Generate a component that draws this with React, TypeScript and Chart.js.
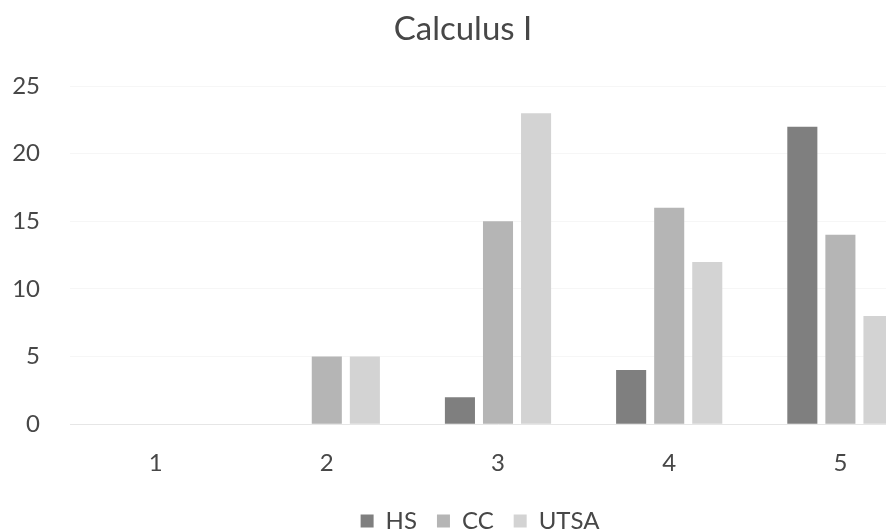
import React, { useEffect, useRef } from "react";
import { Chart, registerables } from "chart.js";

Chart.register(...registerables);

const categories = ["1", "2", "3", "4", "5"];
const hsValues = [0, 0, 2, 4, 22];
const ccValues = [0, 5, 15, 16, 14];
const utsaValues = [0, 5, 23, 12, 8];
const seriesNames = ["HS", "CC", "UTSA"];
const yTicks = [0, 5, 10, 15, 20, 25];

const FONT = "Lato, 'Open Sans', sans-serif";
const TEXT = "#474747";

// Nudges the legend block after layout so it sits where it should under the axis.
const legendOffset = {
  id: "legendOffset",
  afterLayout(chart: any) {
    const lg = chart.legend;
    if (!lg) return;
    const dx = 17;
    const dy = -6;
    lg.left += dx;
    lg.right += dx;
    lg.top += dy;
    lg.bottom += dy;
  },
};

export default function App() {
  const ref = useRef<HTMLCanvasElement | null>(null);

  useEffect(() => {
    if (!ref.current) return;
    const chart = new Chart(ref.current, {
      type: "bar",
      data: {
        labels: categories,
        datasets: [
          { label: seriesNames[0], data: hsValues, backgroundColor: "#7f7f7f" },
          { label: seriesNames[1], data: ccValues, backgroundColor: "#b5b5b5" },
          { label: seriesNames[2], data: utsaValues, backgroundColor: "#d3d3d3" },
        ],
      },
      plugins: [legendOffset],
      options: {
        animation: false,
        responsive: false,
        maintainAspectRatio: false,
        datasets: { bar: { barPercentage: 0.79, categoryPercentage: 0.667 } },
        layout: { padding: { left: 0, right: 6, top: 0, bottom: 2 } },
        plugins: {
          tooltip: { enabled: false },
          title: {
            display: true,
            text: "Calculus I",
            color: TEXT,
            font: { family: FONT, size: 33, weight: "normal" },
            padding: { top: 10, bottom: 36.5 },
          },
          legend: {
            position: "bottom",
            labels: {
              boxWidth: 13,
              boxHeight: 13,
              padding: 20,
              color: TEXT,
              font: { family: FONT, size: 24 },
            },
          },
        },
        scales: {
          x: {
            grid: { display: false },
            border: { color: "#e6e6e6" },
            ticks: { color: TEXT, font: { family: FONT, size: 24 }, padding: 17 },
          },
          y: {
            min: 0,
            max: 25,
            afterBuildTicks: (scale: any) => {
              scale.ticks = yTicks.map((v) => ({ value: v }));
            },
            afterFit: (scale: any) => {
              scale.width = 70;
            },
            grid: { color: "rgba(0,0,0,0.035)", drawTicks: false },
            border: { display: false },
            ticks: { color: TEXT, font: { family: FONT, size: 24 }, padding: 30 },
          },
        },
      },
    });
    return () => chart.destroy();
  }, []);

  return (
    <div
      style={{
        position: "fixed",
        left: 0,
        top: 0,
        width: 886,
        height: 532,
        overflow: "hidden",
        background: "#fff",
      }}
    >
      <canvas ref={ref} width={932} height={551} style={{ display: "block" }} />
    </div>
  );
}
